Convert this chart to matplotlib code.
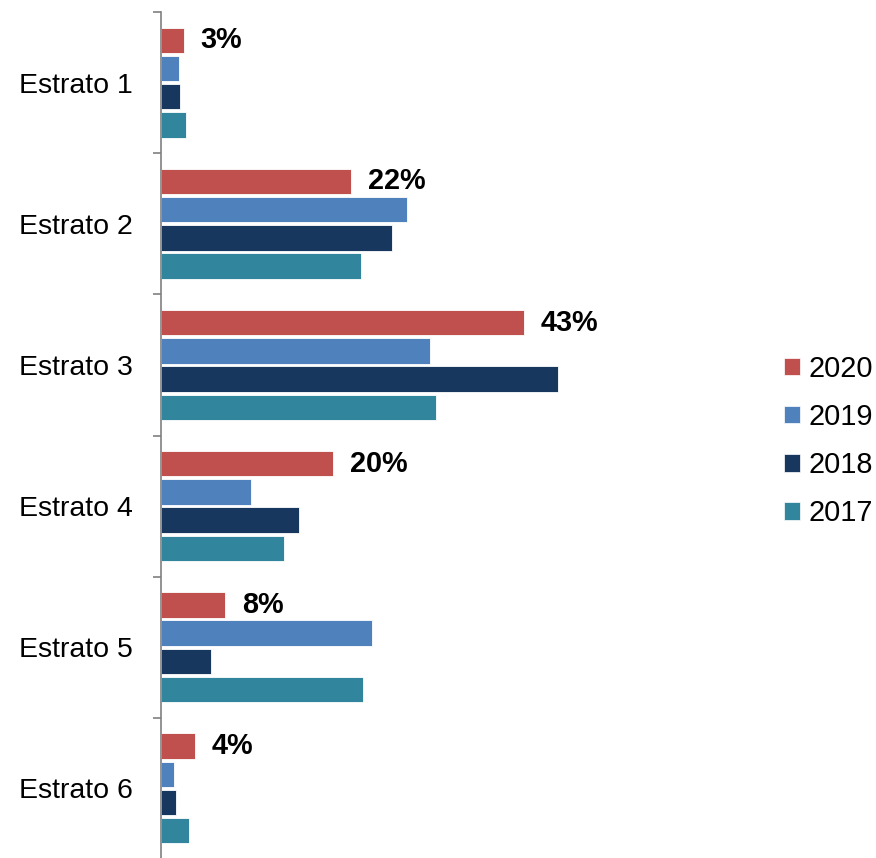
import numpy as np
import matplotlib.pyplot as plt
from matplotlib.patches import Patch

plt.rcParams['font.family'] = ['Liberation Sans', 'DejaVu Sans']

categories = ['Estrato 1', 'Estrato 2', 'Estrato 3', 'Estrato 4', 'Estrato 5', 'Estrato 6']
years = ['2020', '2019', '2018', '2017']
v2020 = [2.7, 22.5, 43.0, 20.4, 7.6, 4.0]
v2019 = [2.1, 29.1, 31.9, 10.7, 25.0, 1.5]
v2018 = [2.2, 27.4, 47.0, 16.4, 5.9, 1.8]
v2017 = [3.0, 23.7, 32.6, 14.6, 23.9, 3.3]
labels_2020 = ['3%', '22%', '43%', '20%', '8%', '4%']

colors = ['#C0504D', '#4F81BD', '#17375E', '#31859C']
series = [v2020, v2019, v2018, v2017]

W, H = 876, 858
fig = plt.figure(figsize=(W / 100, H / 100), dpi=100)
ax = fig.add_axes([161 / W, -1 / H, 422 / W, 847 / H])

y = np.arange(len(categories))
offsets = [-0.3, -0.1, 0.1, 0.3]
for vals, off, c in zip(series, offsets, colors):
    ax.barh(y + off, vals, height=0.18, color=c, edgecolor='white', linewidth=0.6)

# etiquetas de valor solo para 2020
for yi, v, lab in zip(y, v2020, labels_2020):
    ax.annotate(lab, (v, yi - 0.3), xytext=(12, 0), textcoords='offset points',
                ha='left', va='center', fontsize=20.8, fontweight='bold')

ax.set_xlim(0, 50)
ax.set_ylim(len(categories) - 0.5, -0.5)
ax.set_xticks([])
ax.set_yticks(np.arange(len(categories) + 1) - 0.5)
ax.set_yticklabels([])
ax.set_yticks(y, minor=True)
ax.set_yticklabels(categories, minor=True, fontsize=20.5)
ax.tick_params(axis='y', which='major', length=6, width=1.2, color='#808080', direction='out')
ax.tick_params(axis='y', which='minor', length=0, pad=20)

for s in ['top', 'right', 'bottom']:
    ax.spines[s].set_visible(False)
ax.spines['left'].set_color('#808080')
ax.spines['left'].set_linewidth(1.2)

handles = [Patch(facecolor=c, edgecolor='white', linewidth=0.5) for c in colors]
fig.legend(handles, years, loc='center left', bbox_to_anchor=(784 / W, 1 - 441 / H),
           frameon=False, fontsize=20.8, handlelength=0.55, handleheight=0.55,
           handletextpad=0.3, labelspacing=0.7, borderpad=0, borderaxespad=0)

fig.savefig('out.png', dpi=100)
